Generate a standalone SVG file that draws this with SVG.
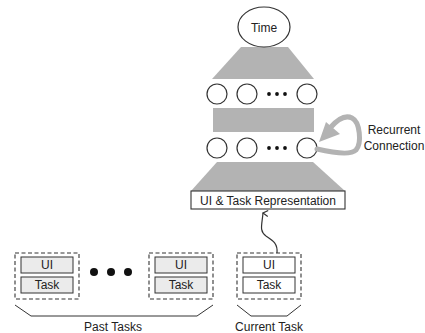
<svg xmlns="http://www.w3.org/2000/svg" width="425" height="333" viewBox="0 0 425 333">
  <style>
    .lbl { font-family: "Liberation Sans", Arial, sans-serif; font-size: 12px; fill: #222; text-anchor: middle; dominant-baseline: central; }
    .band { fill: #b3b3b3; stroke: none; }
    .unit { fill: #fff; stroke: #333; stroke-width: 1.2; }
    .dot { fill: #111; }
    .frame { fill: #fff; stroke: #333; stroke-width: 1.1; stroke-dasharray: 4 2.5; }
    .past { fill: #ebebeb; stroke: #333; stroke-width: 1; }
    .cur { fill: #fff; stroke: #333; stroke-width: 1; }
    .brace { fill: none; stroke: #333; stroke-width: 1; }
  </style>
  <defs>
    <marker id="openHead" markerWidth="8" markerHeight="8" refX="4" refY="1" orient="auto-start-reverse" markerUnits="userSpaceOnUse" viewBox="0 0 8 8">
      <path d="M1,6 L4,1 L7,6" fill="none" stroke="#333" stroke-width="1.2"/>
    </marker>
  </defs>

  <!-- network layers -->
  <g id="layer-top">
    <polygon class="band" points="241,47 288,47 314,79 212,79"/>
  </g>
  <g id="time">
    <ellipse class="unit" cx="264" cy="27" rx="26" ry="20"/>
    <text class="lbl" x="264" y="28">Time</text>
  </g>
  <g id="hidden-row-1">
    <circle class="unit" cx="217" cy="94" r="10"/>
    <circle class="unit" cx="247" cy="94" r="10"/>
    <circle class="dot" cx="269" cy="94" r="1.9"/>
    <circle class="dot" cx="277" cy="94" r="1.9"/>
    <circle class="dot" cx="285" cy="94" r="1.9"/>
    <circle class="unit" cx="307" cy="94" r="10"/>
  </g>
  <g id="layer-middle">
    <rect class="band" x="213" y="108" width="101" height="24"/>
  </g>
  <g id="hidden-row-2">
    <circle class="unit" cx="217" cy="148" r="10"/>
    <circle class="unit" cx="247" cy="148" r="10"/>
    <circle class="dot" cx="269" cy="148" r="1.9"/>
    <circle class="dot" cx="277" cy="148" r="1.9"/>
    <circle class="dot" cx="285" cy="148" r="1.9"/>
    <circle class="unit" cx="307" cy="148" r="10"/>
  </g>
  <g id="layer-bottom">
    <polygon class="band" points="217,162 313,162 345,191 191,191"/>
  </g>
  <g id="representation">
    <rect x="191" y="191" width="154" height="18" fill="#fff" stroke="#333" stroke-width="1.1"/>
    <text class="lbl" x="268" y="200.5">UI &amp; Task Representation</text>
  </g>

  <!-- recurrent loop label -->
  <g id="recurrent-label">
    <text class="lbl" x="394" y="130">Recurrent</text>
    <text class="lbl" x="394" y="146">Connection</text>
  </g>

  <!-- task inputs -->
  <g id="past-task-1">
    <rect class="frame" x="15" y="253" width="64" height="46"/>
    <rect class="past" x="21" y="257" width="52" height="16"/>
    <text class="lbl" x="47" y="265">UI</text>
    <rect class="past" x="21" y="277" width="52" height="16"/>
    <text class="lbl" x="47" y="285">Task</text>
  </g>
  <g id="past-ellipsis">
    <circle class="dot" cx="94" cy="272" r="4"/>
    <circle class="dot" cx="111" cy="272" r="4"/>
    <circle class="dot" cx="128" cy="272" r="4"/>
  </g>
  <g id="past-task-n">
    <rect class="frame" x="149" y="253" width="64" height="46"/>
    <rect class="past" x="155" y="257" width="52" height="16"/>
    <text class="lbl" x="181" y="265">UI</text>
    <rect class="past" x="155" y="277" width="52" height="16"/>
    <text class="lbl" x="181" y="285">Task</text>
  </g>
  <g id="current-task">
    <rect class="frame" x="237" y="253" width="64" height="46"/>
    <rect class="cur" x="243" y="257" width="52" height="16"/>
    <text class="lbl" x="269" y="265">UI</text>
    <rect class="cur" x="243" y="277" width="52" height="16"/>
    <text class="lbl" x="269" y="285">Task</text>
  </g>
  <g id="past-brace">
    <path class="brace" d="M15,305 L31,316 L197,316 L213,305"/>
    <text class="lbl" x="113" y="327">Past Tasks</text>
  </g>
  <g id="current-brace">
    <path class="brace" d="M237,305 L251,316 L287,316 L301,305"/>
    <text class="lbl" x="269" y="327">Current Task</text>
  </g>

  <!-- connectors -->
  <g id="connectors">
    <path d="M277,253 C278,243 272,240 266,236 C259,231 262,225 263,213" fill="none" stroke="#333" stroke-width="1.2" marker-end="url(#openHead)"/>
    <path d="M317,149 C330,152 350,156 356,150 C362,143 360,122 352,118 C344,114 336,121 330,128" fill="none" stroke="#b3b3b3" stroke-width="5" stroke-linecap="round"/>
    <polygon points="319,142 326,122 340,134" fill="#b3b3b3"/>
  </g>
</svg>
